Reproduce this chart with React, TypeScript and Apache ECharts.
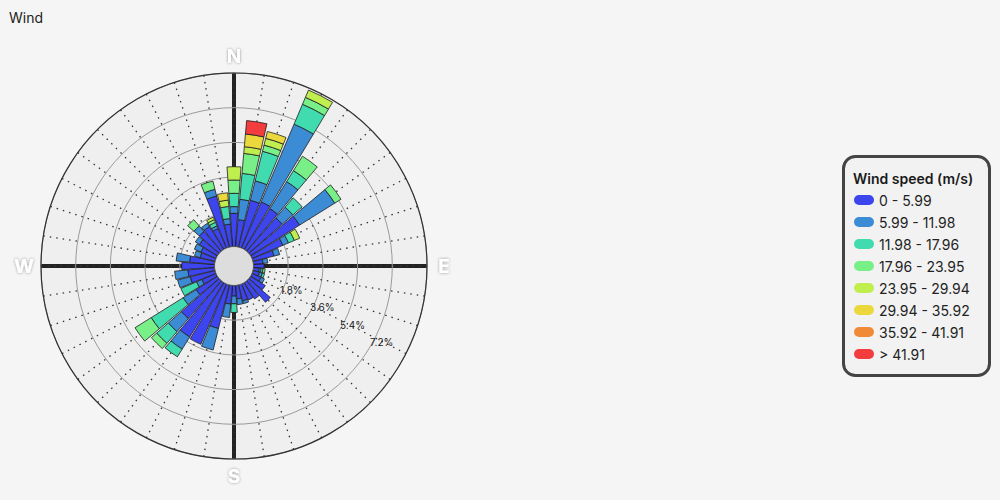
import React, { useEffect, useRef } from "react";
import * as echarts from "echarts";

const directions = [
  "0°", "9°", "18°", "27°", "36°", "45°", "54°", "63°", "72°", "81°",
  "90°", "99°", "108°", "117°", "126°", "135°", "144°", "153°", "162°", "171°",
  "180°", "189°", "198°", "207°", "216°", "225°", "234°", "243°", "252°", "261°",
  "270°", "279°", "288°", "297°", "306°", "315°", "324°", "333°", "342°", "351°",
];

const speedBins = [
  "0 - 5.99", "5.99 - 11.98", "11.98 - 17.96", "17.96 - 23.95",
  "23.95 - 29.94", "29.94 - 35.92", "35.92 - 41.91", "> 41.91",
];

const binColors = ["#3d45ee", "#3b8bd5", "#41dbb0", "#79ef88", "#c0ee4f", "#ebd83c", "#f18a37", "#f23c3d"];

// percent frequency per direction for each speed bin
const bin0 = [1.72, 1.40, 2.50, 2.60, 2.50, 2.30, 3.00, 1.74, 1.13, 0.50, 0.55, 0.30, 0.35, 0.50, 0.90, 1.48, 1.00, 0.90, 0.85, 0.70, 0.55, 0.97, 2.33, 3.40, 3.33, 2.60, 1.30, 0.80, 1.33, 1.39, 1.70, 1.30, 0.80, 0.85, 1.10, 1.37, 1.40, 1.10, 2.73, 1.17];
const bin1 = [0.35, 1.06, 1.04, 4.38, 1.65, 0.73, 2.15, 0.32, 0.30, 0.25, 0, 0.10, 0.15, 0.20, 0, 0, 0, 0, 0.15, 0.30, 0.40, 0.70, 1.15, 0, 0.74, 0.90, 0.80, 0.30, 0.67, 0.69, 0, 0.70, 0.30, 0.37, 0.25, 0.37, 0.20, 0.15, 0.36, 0.29];
const bin2 = [0.69, 1.35, 1.58, 1.12, 0.67, 0.64, 0, 0.33, 0, 0, 0, 0.10, 0.12, 0, 0, 0, 0, 0, 0, 0, 0.45, 0, 0, 0, 0.47, 0.80, 1.95, 0.88, 0, 0, 0, 0, 0, 0, 0, 0, 0, 0.20, 0, 0.63];
const bin3 = [0.69, 1.04, 0.33, 0.39, 0.88, 0, 0.38, 0, 0, 0, 0, 0.11, 0, 0, 0, 0, 0, 0, 0, 0, 0, 0, 0, 0, 0, 0.36, 0.99, 0, 0, 0, 0, 0, 0, 0, 0, 0.43, 0, 0.15, 0.44, 0];
const bin4 = [0.69, 0.35, 0.36, 0.41, 0, 0, 0, 0.30, 0, 0, 0, 0, 0, 0, 0, 0, 0, 0, 0, 0, 0, 0, 0, 0, 0, 0, 0, 0, 0, 0, 0, 0, 0, 0, 0, 0, 0, 0.14, 0, 0.33];
const bin5 = [0, 0.66, 0.37, 0, 0, 0, 0, 0, 0, 0, 0, 0, 0, 0, 0, 0, 0, 0, 0, 0, 0, 0, 0, 0, 0, 0, 0, 0, 0, 0, 0, 0, 0, 0, 0, 0, 0, 0, 0, 0.38];
const bin6 = [0, 0, 0, 0, 0, 0, 0, 0, 0, 0, 0, 0, 0, 0, 0, 0, 0, 0, 0, 0, 0, 0, 0, 0, 0, 0, 0, 0, 0, 0, 0, 0, 0, 0, 0, 0, 0, 0, 0, 0];
const bin7 = [0, 0.70, 0, 0, 0, 0, 0, 0, 0, 0, 0, 0, 0, 0, 0, 0, 0, 0, 0, 0, 0, 0, 0, 0, 0, 0, 0, 0, 0, 0, 0, 0, 0, 0, 0, 0, 0, 0, 0, 0];

const binValues = [bin0, bin1, bin2, bin3, bin4, bin5, bin6, bin7];

const ringTicks = [1.8, 3.6, 5.4, 7.2];
const radiusMax = 9;
const compassLabels = ["N", "E", "S", "W"];

const FONT = 'Inter, "Noto Sans", sans-serif';

export default function App() {
  const ref = useRef<HTMLDivElement>(null);

  useEffect(() => {
    const chart = echarts.init(ref.current as HTMLDivElement, null, { renderer: "svg" });
    const cx = 234;
    const cy = 266;
    const r0 = 19.5;
    const r1 = 193;
    const rOf = (v: number) => r0 + (v / radiusMax) * (r1 - r0);

    const graphics: any[] = [];
    graphics.push({ type: "circle", z: -10, silent: true, shape: { cx, cy, r: r1 }, style: { fill: "#efefef" } });
    [0, 90, 180, 270].forEach((deg) => {
      const a = (deg * Math.PI) / 180;
      graphics.push({
        type: "line", z: 1, silent: true,
        shape: { x1: cx, y1: cy, x2: cx + r1 * Math.sin(a), y2: cy - r1 * Math.cos(a) },
        style: { stroke: "#222", lineWidth: 4 },
      });
    });
    compassLabels.forEach((lab, i) => {
      const a = (i * 90 * Math.PI) / 180;
      const d = r1 + 17;
      graphics.push({
        type: "text", z: 5, silent: true,
        x: cx + d * Math.sin(a), y: cy - d * Math.cos(a),
        style: {
          text: lab, fill: "#ffffff", font: `bold 19px ${FONT}`,
          align: "center", verticalAlign: "middle",
          textShadowColor: "rgba(0,0,0,0.4)", textShadowBlur: 3,
        },
      });
    });
    graphics.push({ type: "circle", z: 10, silent: true, shape: { cx, cy, r: r0 }, style: { fill: "#dddddd", stroke: "#555", lineWidth: 1 } });
    ringTicks.forEach((v) => {
      const r = rOf(v);
      const a = (120 * Math.PI) / 180;
      graphics.push({
        type: "text", z: 5, silent: true,
        x: cx + r * Math.sin(a) - 1, y: cy - r * Math.cos(a) - 3,
        style: { text: `${v}%`, fill: "#222", font: `10px ${FONT}`, align: "left", verticalAlign: "middle" },
      });
    });
    graphics.push({
      type: "rect", z: 0, silent: true,
      shape: { x: 843.5, y: 156.5, width: 146, height: 219, r: 12 },
      style: { fill: "#f2f2f2", stroke: "#444", lineWidth: 3 },
    });
    graphics.push({
      type: "text", z: 1, silent: true, x: 853, y: 178,
      style: { text: "Wind speed (m/s)", fill: "#1a1a1a", font: `600 14px ${FONT}`, align: "left", verticalAlign: "middle" },
    });

    chart.setOption({
      animation: false,
      backgroundColor: "#f4f5f4",
      title: { text: "Wind", left: 9, top: 10, padding: 0, textStyle: { fontSize: 14, fontWeight: "normal", color: "#222", fontFamily: FONT } },
      legend: {
        orient: "vertical", left: 854, top: 192, padding: 0, itemWidth: 20, itemHeight: 10, itemGap: 6,
        icon: "path://M5,0 H15 A5,5 0 0 1 15,10 H5 A5,5 0 0 1 5,0 Z",
        selectedMode: false,
        itemStyle: { borderWidth: 0 },
        textStyle: { fontSize: 14, color: "#222", fontFamily: FONT, lineHeight: 16 },
        data: speedBins,
      },
      polar: [
        { center: [cx, cy], radius: [r0, r1] },
        { center: [cx, cy], radius: [r0, r1] },
      ],
      angleAxis: [
        {
          polarIndex: 0, type: "category", data: directions, startAngle: 94.5, clockwise: true, boundaryGap: true, z: 1,
          axisLine: { show: true, lineStyle: { color: "#333", width: 1.2 } },
          axisTick: { show: false }, axisLabel: { show: false }, splitLine: { show: false },
        },
        {
          polarIndex: 1, type: "value", min: 0, max: 360, interval: 9, startAngle: 90, clockwise: true, z: 1,
          axisLine: { show: false }, axisTick: { show: false }, axisLabel: { show: false },
          splitLine: { show: true, lineStyle: { color: "#333", width: 1.3, type: [1.5, 5] } },
        },
      ],
      radiusAxis: [
        {
          polarIndex: 0, min: 0, max: radiusMax, interval: 1.8, z: 1,
          axisLine: { show: false }, axisTick: { show: false }, axisLabel: { show: false },
          splitLine: { show: true, lineStyle: { color: "#9a9a9a", width: 1 } },
        },
        {
          polarIndex: 1, min: 0, max: radiusMax, interval: 1.8,
          axisLine: { show: false }, axisTick: { show: false }, axisLabel: { show: false }, splitLine: { show: false },
        },
      ],
      graphic: graphics,
      series: speedBins.map((name, k) => ({
        type: "bar", name, coordinateSystem: "polar", polarIndex: 0, stack: "wind",
        barCategoryGap: "10%",
        data: binValues[k].map((v) => (v > 0 ? v : null)),
        itemStyle: { color: binColors[k], borderColor: "#1e1e1e", borderWidth: 0.8 },
        emphasis: { disabled: true },
      })),
    });

    return () => chart.dispose();
  }, []);

  return <div ref={ref} style={{ position: "fixed", left: 0, top: 0, width: 1000, height: 500 }} />;
}
